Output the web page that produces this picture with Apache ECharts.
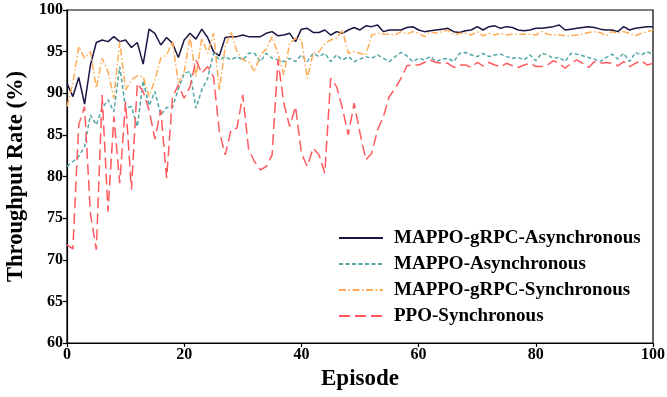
<!DOCTYPE html>
<html>
<head>
<meta charset="utf-8">
<script src="https://cdn.jsdelivr.net/npm/echarts@6/dist/echarts.min.js"></script>
<style>html,body{margin:0;padding:0;background:#fff}#c{width:667px;height:397px}</style>
</head>
<body>
<div id="c"></div>
<script>
const seriesNames = ["MAPPO-gRPC-Asynchronous", "MAPPO-Asynchronous", "MAPPO-gRPC-Synchronous", "PPO-Synchronous"];
const xTicks = [0, 20, 40, 60, 80, 100];
const yTicks = [60, 65, 70, 75, 80, 85, 90, 95, 100];

const grpcAsync = [
 91.2, 89.6, 91.9, 88.7, 93.4, 96.1, 96.4, 96.2, 96.8, 96.2,
 96.4, 95.5, 96.1, 93.5, 97.7, 97.2, 95.8, 96.7, 96.0, 94.3,
 96.4, 97.2, 96.5, 97.7, 96.7, 95.0, 94.5, 96.7, 96.8, 96.8,
 97.0, 96.8, 96.8, 96.8, 97.2, 97.4, 96.9, 97.0, 97.2, 96.2,
 97.7, 97.8, 97.3, 97.3, 97.6, 97.0, 97.4, 97.2, 97.6, 97.9,
 97.6, 98.1, 98.0, 98.2, 97.4, 97.6, 97.6, 97.6, 97.9, 98.0,
 97.6, 97.4, 97.5, 97.6, 97.7, 97.8, 97.4, 97.3, 97.5, 97.6,
 98.0, 97.6, 98.0, 98.1, 97.8, 98.0, 97.9, 97.6, 97.5, 97.6,
 97.8, 97.8, 97.9, 98.0, 98.2, 97.6, 97.7, 97.8, 97.9, 98.0,
 97.9, 97.7, 97.6, 97.6, 97.4, 98.0, 97.6, 97.8, 97.9, 98.0, 98.0
];
const mappoAsync = [
 81.2, 81.8, 82.4, 83.6, 87.4, 86.2, 88.2, 89.2, 87.8, 93.2,
 88.2, 88.4, 86.0, 91.5, 88.5, 90.2, 87.4, 88.3, 88.3, 90.5,
 92.4, 92.6, 88.2, 90.4, 91.8, 94.8, 94.0, 94.4, 94.0, 94.4,
 94.0, 94.8, 94.8, 93.8, 94.8, 94.2, 94.0, 93.8, 94.2, 93.8,
 94.6, 93.8, 94.8, 94.4, 94.8, 93.8, 94.6, 94.0, 94.4, 93.8,
 94.1, 94.4, 94.2, 94.6, 94.2, 93.8, 94.4, 94.9, 94.5, 93.8,
 94.2, 94.0, 94.4, 93.8, 94.1, 94.2, 93.8, 94.8, 94.9, 94.6,
 94.4, 94.8, 94.4, 94.6, 94.7, 94.4, 94.2, 94.3, 94.0, 94.6,
 93.9, 94.8, 94.6, 94.2, 94.3, 93.8, 94.8, 94.7, 94.5, 94.3,
 94.1, 93.8, 94.3, 94.7, 94.1, 94.8, 93.8, 94.9, 94.6, 95.0, 94.6
];
const grpcSync = [
 88.4, 91.2, 95.6, 94.2, 95.0, 90.6, 94.2, 92.6, 89.4, 96.2,
 90.4, 91.6, 92.1, 92.0, 89.6, 91.6, 94.2, 94.6, 96.2, 91.2,
 92.6, 96.8, 92.0, 96.6, 94.8, 97.2, 90.4, 95.6, 97.4, 95.0,
 94.0, 93.8, 92.6, 94.6, 95.3, 96.8, 94.8, 92.2, 96.0, 96.6,
 96.4, 91.8, 94.8, 95.0, 96.0, 96.4, 96.6, 97.6, 94.8, 95.0,
 94.8, 94.6, 97.0, 97.2, 97.1, 97.1, 97.0, 97.4, 97.1, 97.4,
 97.2, 96.8, 97.4, 97.2, 97.4, 97.6, 97.0, 97.2, 97.2, 97.0,
 97.4, 96.9, 97.2, 97.0, 97.2, 97.0, 97.1, 97.1, 97.1, 97.1,
 97.0, 97.4, 97.1, 97.0, 97.0, 96.9, 96.9, 97.0, 97.1, 97.3,
 97.4, 97.3, 96.9, 97.4, 97.2, 97.4, 97.2, 96.9, 97.2, 97.4, 97.6
];
const ppoSync = [
 71.8, 71.3, 86.2, 88.4, 75.5, 71.2, 89.8, 75.8, 87.2, 79.2,
 89.0, 78.4, 91.2, 90.2, 88.0, 84.5, 88.0, 79.8, 89.5, 91.0,
 89.4, 90.8, 94.0, 92.4, 93.2, 92.0, 85.4, 82.6, 85.6, 85.8,
 89.8, 83.2, 81.8, 80.8, 81.2, 82.6, 94.0, 88.8, 86.0, 88.4,
 82.8, 81.2, 83.4, 82.6, 80.4, 91.8, 90.8, 88.2, 85.0, 88.8,
 85.2, 82.0, 82.8, 85.6, 87.2, 89.6, 90.6, 91.8, 93.3, 93.4,
 93.4, 93.7, 94.0, 93.7, 93.6, 93.6, 93.1, 93.4, 93.4, 93.1,
 93.7, 93.3, 93.7, 93.4, 93.2, 93.6, 93.3, 93.1, 93.4, 93.6,
 93.2, 93.2, 93.4, 93.9, 93.6, 93.0, 93.6, 94.0, 93.6, 93.1,
 93.8, 93.6, 93.7, 93.6, 93.3, 93.8, 93.2, 93.6, 93.9, 93.4, 93.6
];

function pairs(arr){ return arr.map((v,i)=>[i,v]); }

const chart = echarts.init(document.getElementById('c'), null, {renderer:'canvas'});
const font = 'Liberation Serif';
chart.setOption({
  animation:false,
  backgroundColor:'#fff',
  grid:{left:67, right:14, top:10, bottom:54, containLabel:false, outerBoundsMode:'none',
        show:true, borderColor:'#000', borderWidth:1.2, backgroundColor:'transparent'},
  xAxis:{
    type:'value', min:0, max:100, interval:20,
    name:'Episode', nameLocation:'middle', nameGap:25,
    nameTextStyle:{fontFamily:font, fontWeight:'bold', fontSize:23, color:'#000'},
    axisLine:{lineStyle:{color:'#000', width:1.2}},
    axisTick:{show:true, length:4, lineStyle:{color:'#000', width:1.2}},
    axisLabel:{fontFamily:font, fontWeight:'bold', fontSize:16, color:'#000', margin:4},
    splitLine:{show:false}
  },
  yAxis:{
    type:'value', min:60, max:100, interval:5,
    name:'Throughput Rate (%)', nameLocation:'middle', nameGap:27, nameRotate:90,
    nameTextStyle:{fontFamily:font, fontWeight:'bold', fontSize:22.5, color:'#000'},
    axisLine:{show:true, lineStyle:{color:'#000', width:1.2}},
    axisTick:{show:true, length:4, lineStyle:{color:'#000', width:1.2}},
    axisLabel:{fontFamily:font, fontWeight:'bold', fontSize:16, color:'#000', margin:4},
    splitLine:{show:false}
  },
  legend:{
    orient:'vertical', left:333, top:223, itemWidth:44, itemHeight:14, itemGap:6,
    itemStyle:{opacity:0},
    textStyle:{fontFamily:font, fontWeight:'bold', fontSize:19, lineHeight:20, color:'#000', padding:[0,0,0,6]},
    data:seriesNames
  },
  series:[
    {name:seriesNames[0], type:'line', data:pairs(grpcAsync), symbol:'none', color:'#1c1442',
     lineStyle:{color:'#1c1442', width:1.5, type:'solid'}},
    {name:seriesNames[1], type:'line', data:pairs(mappoAsync), symbol:'none', color:'#52a7a7',
     lineStyle:{color:'#52a7a7', width:1.5, type:[4,2.5]}},
    {name:seriesNames[2], type:'line', data:pairs(grpcSync), symbol:'none', color:'#ffab55',
     lineStyle:{color:'#ffab55', width:1.5, type:[7,2.5,1.5,2.5]}},
    {name:seriesNames[3], type:'line', data:pairs(ppoSync), symbol:'none', color:'#ff5a5f',
     lineStyle:{color:'#ff5a5f', width:1.5, type:[11,5]}}
  ]
});
</script>
</body>
</html>
